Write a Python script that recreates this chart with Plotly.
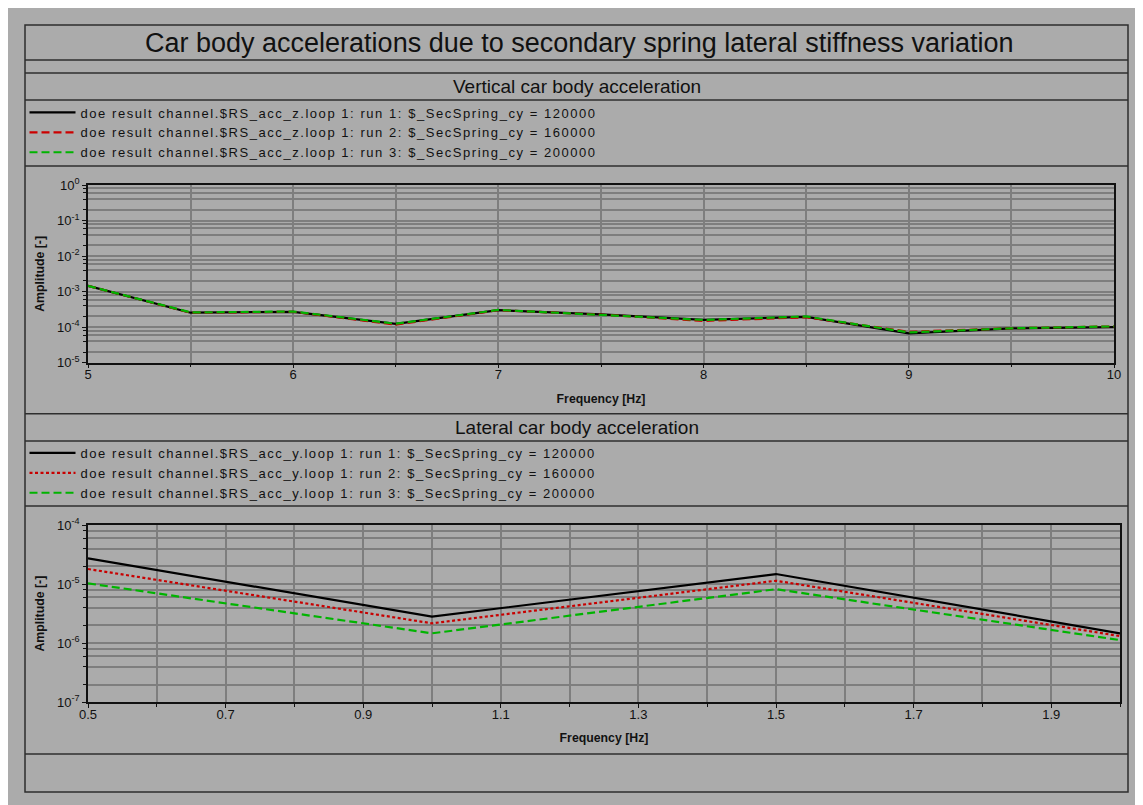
import plotly.graph_objects as go

W, H = 1143, 805
OFF = 8  # page body margin of the browser

# ---------------- data ----------------
spring_cy = [120000, 160000, 200000]

freq_v = [5, 5.5, 6, 6.5, 7, 7.5, 8, 8.5, 9, 9.5, 10]
acc_z_run1 = [1.45e-3, 2.55e-4, 2.7e-4, 1.23e-4, 3.0e-4, 2.3e-4, 1.6e-4, 1.95e-4, 6.7e-5, 9.2e-5, 1.0e-4]
acc_z_run2 = [1.45e-3, 2.55e-4, 2.7e-4, 1.18e-4, 3.0e-4, 2.25e-4, 1.5e-4, 1.9e-4, 7.4e-5, 9.3e-5, 1.05e-4]
acc_z_run3 = [1.45e-3, 2.6e-4, 2.75e-4, 1.25e-4, 3.05e-4, 2.2e-4, 1.6e-4, 2.0e-4, 7.1e-5, 9.3e-5, 1.05e-4]

freq_l = [0.5, 1.0, 1.5, 2.0]
acc_y_run1 = [2.73e-5, 2.81e-6, 1.48e-5, 1.47e-6]
acc_y_run2 = [1.8e-5, 2.17e-6, 1.14e-5, 1.32e-6]
acc_y_run3 = [1.03e-5, 1.47e-6, 8.2e-6, 1.13e-6]

x_ticks_v = [5, 6, 7, 8, 9, 10]
x_ticks_l = [0.5, 0.7, 0.9, 1.1, 1.3, 1.5, 1.7, 1.9]
y_exp_v = [-5, -4, -3, -2, -1, 0]
y_exp_l = [-7, -6, -5, -4]

FONT = "Liberation Sans, Arial, sans-serif"
GRAY = "#ABABAB"
GRID = "#7E7E7E"
LINE = "#2E2E2E"


def fx(px):
    return (px - OFF) / W


def fy(py):
    return 1 - (py - OFF) / H


def spaced(t, ls="1.55px"):
    return f'<span style="letter-spacing:{ls}">{t}</span>'


fig = go.Figure()

styles_v = [("#000000", "solid"), ("#CC0000", "8px,4px"), ("#00B400", "8px,4px")]
styles_l = [("#000000", "solid"), ("#C80000", "3px,2.5px"), ("#00B400", "8px,4px")]

for i, (ys, (c, d)) in enumerate(zip([acc_z_run1, acc_z_run2, acc_z_run3], styles_v)):
    fig.add_trace(go.Scatter(
        x=freq_v, y=ys, mode="lines", xaxis="x", yaxis="y", legend="legend",
        name=spaced(f"doe result channel.$RS_acc_z.loop 1: run {i+1}: $_SecSpring_cy = {spring_cy[i]}"),
        line=dict(color=c, dash=d, width=2.2)))

for i, (ys, (c, d)) in enumerate(zip([acc_y_run1, acc_y_run2, acc_y_run3], styles_l)):
    fig.add_trace(go.Scatter(
        x=freq_l, y=ys, mode="lines", xaxis="x2", yaxis="y2", legend="legend2",
        name=spaced(f"doe result channel.$RS_acc_y.loop 1: run {i+1}: $_SecSpring_cy = {spring_cy[i]}"),
        line=dict(color=c, dash=d, width=2.2)))


def minor_vals(exps):
    vals = []
    for e in exps[:-1]:
        for m in (2, 4, 6, 8):
            vals.append(m * 10.0 ** e)
    return vals


tickfont = dict(family=FONT, size=13, color="#111")
titlefont = dict(family=FONT, size=12.3, color="#111", weight="bold")

common_x = dict(showline=True, mirror=True, linecolor="#111", linewidth=1.5, automargin=False,
                showgrid=True, gridcolor=GRID, gridwidth=1.5, zeroline=False,
                ticks="outside", ticklen=4, tickcolor="#111", tickfont=tickfont,
                ticklabelstandoff=-5)
common_y = dict(type="log", showline=True, mirror=True, linecolor="#111", linewidth=1.5, automargin=False,
                showgrid=True, gridcolor=GRID, gridwidth=1.5, zeroline=False,
                ticks="outside", ticklen=4, tickcolor="#111", tickfont=tickfont)

legend_common = dict(xanchor="left", yanchor="top", bgcolor="rgba(0,0,0,0)", borderwidth=0,
                     itemwidth=46, tracegroupgap=0,
                     font=dict(family=FONT, size=13, color="#111"))

fig.update_layout(
    width=W, height=H,
    margin=dict(l=0, r=0, t=0, b=0, autoexpand=False),
    paper_bgcolor=GRAY,
    plot_bgcolor="rgba(0,0,0,0)",
    font=dict(family=FONT, color="#111"),
    showlegend=True,
    xaxis=dict(common_x, domain=[fx(88), fx(1114)], range=[5, 10], anchor="y",
               tickvals=x_ticks_v, ticktext=[str(v) for v in x_ticks_v],
               minor=dict(dtick=0.5, tick0=5, showgrid=True, gridcolor=GRID, gridwidth=1.5,
                          ticks="outside", ticklen=3, tickcolor="#111"),
               title=dict(text="Frequency [Hz]", font=titlefont, standoff=13)),
    yaxis=dict(common_y, domain=[fy(362.7), fy(185)], range=[-5, 0], anchor="x",
               tickvals=[10.0 ** e for e in y_exp_v],
               ticktext=[f"10<sup>{e}</sup>" for e in y_exp_v],
               minor=dict(tickvals=minor_vals(y_exp_v), showgrid=True, gridcolor=GRID, gridwidth=1.5,
                          ticks="outside", ticklen=3, tickcolor="#111"),
               title=dict(text="Amplitude [-]", font=titlefont, standoff=10)),
    xaxis2=dict(common_x, domain=[fx(88), fx(1120)], range=[0.5, 2.0], anchor="y2",
                tickvals=x_ticks_l, ticktext=[f"{v:.1f}" for v in x_ticks_l],
                minor=dict(dtick=0.1, tick0=0.5, showgrid=True, gridcolor=GRID, gridwidth=1.5,
                           ticks="outside", ticklen=3, tickcolor="#111"),
                title=dict(text="Frequency [Hz]", font=titlefont, standoff=13)),
    yaxis2=dict(common_y, domain=[fy(702.3), fy(525)], range=[-7, -4], anchor="x2",
                tickvals=[10.0 ** e for e in y_exp_l],
                ticktext=[f"10<sup>{e}</sup>" for e in y_exp_l],
                minor=dict(tickvals=minor_vals(y_exp_l), showgrid=True, gridcolor=GRID, gridwidth=1.5,
                           ticks="outside", ticklen=3, tickcolor="#111"),
                title=dict(text="Amplitude [-]", font=titlefont, standoff=10)),
    legend=dict(legend_common, x=fx(24.5), y=fy(97.5)),
    legend2=dict(legend_common, x=fx(24.5), y=fy(438)),
)

shapes = [
    dict(type="rect", xref="paper", yref="paper", x0=fx(25), x1=fx(1128), y0=fy(792), y1=fy(25),
         line=dict(color=LINE, width=1.5), layer="above"),
]
for yy in [60, 73, 100, 166, 413.7, 441, 506, 754]:
    shapes.append(dict(type="line", xref="paper", yref="paper", x0=fx(25), x1=fx(1128),
                       y0=fy(yy), y1=fy(yy), line=dict(color=LINE, width=1.5), layer="above"))
fig.update_layout(shapes=shapes)

fig.add_annotation(text="Car body accelerations due to secondary spring lateral stiffness variation",
                   xref="paper", yref="paper", x=fx(579), y=fy(43), showarrow=False,
                   xanchor="center", yanchor="middle",
                   font=dict(family=FONT, size=27, color="#111"))
fig.add_annotation(text="Vertical car body acceleration", xref="paper", yref="paper",
                   x=fx(577), y=fy(86.5), showarrow=False, xanchor="center", yanchor="middle",
                   font=dict(family=FONT, size=19, color="#111"))
fig.add_annotation(text="Lateral car body acceleration", xref="paper", yref="paper",
                   x=fx(577), y=fy(427.5), showarrow=False, xanchor="center", yanchor="middle",
                   font=dict(family=FONT, size=19, color="#111"))

fig.write_html("out.html")
